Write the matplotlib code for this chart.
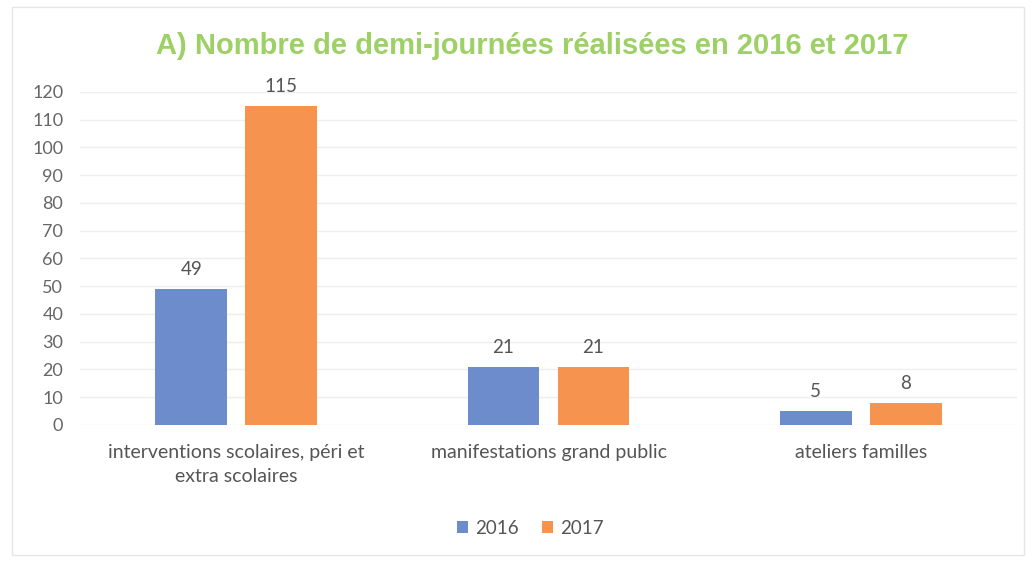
import numpy as np
import matplotlib.pyplot as plt

categories = ["interventions scolaires, péri et\nextra scolaires",
              "manifestations grand public",
              "ateliers familles"]
years = ["2016", "2017"]
values_2016 = [49, 21, 5]
values_2017 = [115, 21, 8]

plt.rcParams['font.family'] = ['Lato', 'DejaVu Sans']

fig = plt.figure(figsize=(10.36, 5.62), dpi=100)
ax = fig.add_axes([0.0772, 0.2438, 0.9045, 0.5925])

x = np.arange(len(categories))
w = 0.23
off = 0.144
b1 = ax.bar(x - off, values_2016, w, color="#6d8ccc", label=years[0])
b2 = ax.bar(x + off, values_2017, w, color="#f6944f", label=years[1])

for bars in (b1, b2):
    ax.bar_label(bars, padding=8, fontsize=13.5, color="#555555")

ax.set_xlim(-0.5, 2.5)
ax.set_ylim(0, 120)
ax.set_yticks(range(0, 121, 10))
ax.set_xticks(x)
ax.set_xticklabels(categories, fontsize=14, color="#555555", linespacing=1.45)
ax.tick_params(axis="y", labelsize=13, labelcolor="#666666", length=0, pad=12)
ax.tick_params(axis="x", length=0, pad=14)
ax.grid(axis="y", color="#eeeeee", linewidth=1)
ax.set_axisbelow(True)
for s in ax.spines.values():
    s.set_visible(False)

fig.text(0.514, 0.918, "A) Nombre de demi-journées réalisées en 2016 et 2017",
         ha="center", va="center", fontsize=21, fontweight="bold",
         color="#9dd065", family=["Liberation Sans", "DejaVu Sans"])

fig.legend(handles=[b1, b2], labels=years, loc="center", bbox_to_anchor=(0.512, 0.06),
           ncol=2, frameon=False, fontsize=13.5, labelcolor="#555555",
           handlelength=0.6, handleheight=0.6, handletextpad=0.4, columnspacing=1.2)

border = plt.Rectangle((0.012, 0.012), 0.976, 0.976, transform=fig.transFigure,
                       fill=False, edgecolor="#e6e6e6", linewidth=1)
fig.patches.append(border)

fig.savefig("out.png", dpi=100)
